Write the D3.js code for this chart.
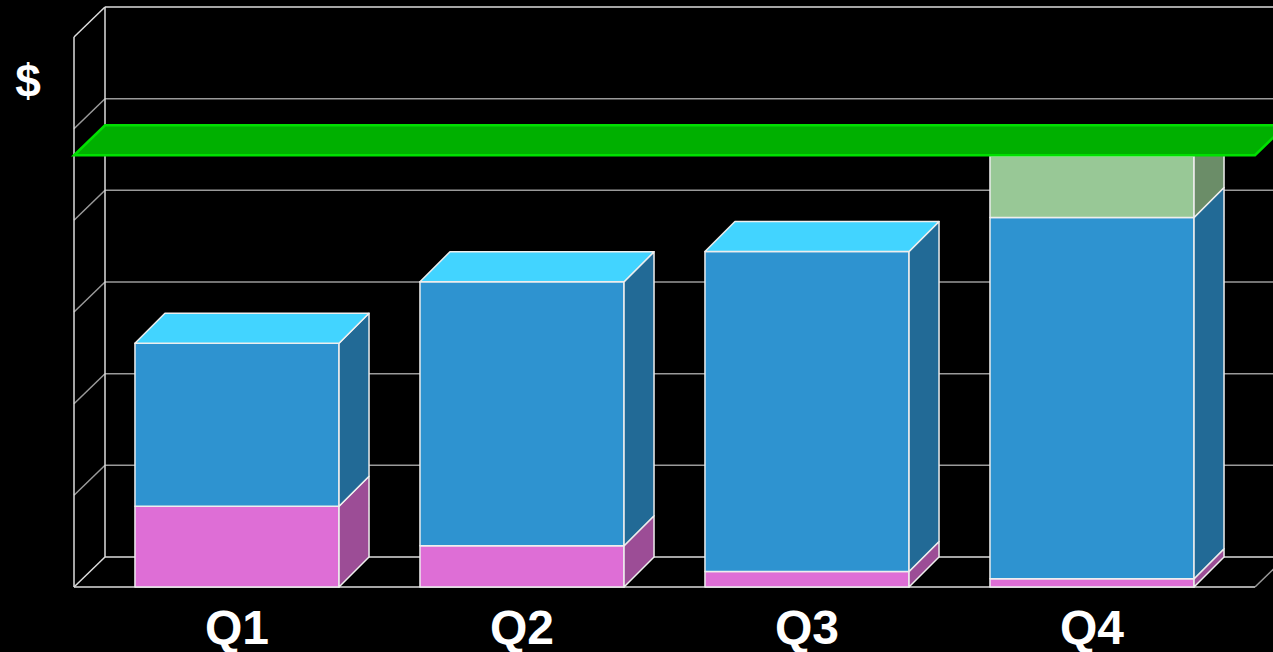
<!DOCTYPE html>
<html>
<head>
<meta charset="utf-8">
<script src="https://cdn.jsdelivr.net/npm/d3@7"></script>
<style>
html,body{margin:0;padding:0;background:#000;overflow:hidden;}
svg{display:block;}
</style>
</head>
<body>
<svg id="chart" width="1273" height="652"></svg>
<script>
// ---- data ----
const categories = ["Q1", "Q2", "Q3", "Q4"];
const seriesPink = [88, 45, 17, 9];
const seriesBlue = [178, 288, 349, 394];
const seriesLightGreen = [0, 0, 0, 67.5];
const targetValue = 471;
const yTicks = [0, 100, 200, 300, 400, 500, 600];
const axisLabel = "$";

// ---- layout ----
const W = 1273, H = 652;
const depthX = 31, depthY = 30;
const frontLeft = 74, frontRight = 1255;
const yBase = 587, yTopFront = 37;

const svg = d3.select("#chart");
svg.append("rect").attr("width", W).attr("height", H).attr("fill", "#000");

const y = d3.scaleLinear().domain([0, 600]).range([yBase, yTopFront]);
const x = d3.scaleBand().domain(categories).range([94.5, 1234.5]).paddingInner(0.284).paddingOuter(0.142);

const gridColor = "#9a9a9a", frameColor = "#dcdcdc";

const grid = svg.append("g");
yTicks.forEach((t, i) => {
  const yf = y(t), yb = yf - depthY;
  const isFrame = (i === 0 || i === yTicks.length - 1);
  grid.append("line")
    .attr("x1", frontLeft + depthX).attr("x2", frontRight + depthX)
    .attr("y1", yb).attr("y2", yb)
    .attr("stroke", isFrame ? frameColor : gridColor)
    .attr("stroke-width", 1.5);
  grid.append("line")
    .attr("x1", frontLeft).attr("y1", yf)
    .attr("x2", frontLeft + depthX).attr("y2", yb)
    .attr("stroke", isFrame ? frameColor : gridColor)
    .attr("stroke-width", 1.5);
});
grid.append("line")
  .attr("x1", frontLeft + depthX).attr("x2", frontLeft + depthX)
  .attr("y1", y(600) - depthY).attr("y2", y(0) - depthY)
  .attr("stroke", frameColor).attr("stroke-width", 1.5);
grid.append("line")
  .attr("x1", frontLeft).attr("x2", frontLeft)
  .attr("y1", y(600)).attr("y2", y(0))
  .attr("stroke", frameColor).attr("stroke-width", 1.5);
grid.append("line")
  .attr("x1", frontLeft).attr("x2", frontRight)
  .attr("y1", y(0)).attr("y2", y(0))
  .attr("stroke", frameColor).attr("stroke-width", 1.5);
grid.append("line")
  .attr("x1", frontRight).attr("y1", y(0))
  .attr("x2", frontRight + depthX).attr("y2", y(0) - depthY)
  .attr("stroke", gridColor).attr("stroke-width", 1.5);

// ---- bars ----
const series = [
  { values: seriesPink, front: "#de6ed6", top: "#f08ae8", side: "#9c4d96" },
  { values: seriesBlue, front: "#2e93d0", top: "#42d4ff", side: "#226a96" },
  { values: seriesLightGreen, front: "#98c896", top: "#b5e0b2", side: "#6b8d68" }
];

const bars = svg.append("g");
const bw = x.bandwidth();
const bdx = 30, bdy = 30;
const edge = "#eeeeee";
const pts = arr => arr.map(p => p.join(",")).join(" ");

categories.forEach((c, ci) => {
  const x0 = x(c), x1 = x0 + bw;
  let cum = 0;
  const segs = [];
  series.forEach(s => {
    const v = s.values[ci];
    if (v > 0) { segs.push({ s, lo: cum, hi: cum + v }); cum += v; }
  });
  segs.forEach((seg, si) => {
    const yb = y(seg.lo), yt = y(seg.hi);
    bars.append("polygon")
      .attr("points", pts([[x0, yb], [x1, yb], [x1, yt], [x0, yt]]))
      .attr("fill", seg.s.front).attr("stroke", edge).attr("stroke-width", 1.5).attr("stroke-linejoin", "round");
    bars.append("polygon")
      .attr("points", pts([[x1, yb], [x1 + bdx, yb - bdy], [x1 + bdx, yt - bdy], [x1, yt]]))
      .attr("fill", seg.s.side).attr("stroke", edge).attr("stroke-width", 1.5).attr("stroke-linejoin", "round");
    if (si === segs.length - 1) {
      bars.append("polygon")
        .attr("points", pts([[x0, yt], [x1, yt], [x1 + bdx, yt - bdy], [x0 + bdx, yt - bdy]]))
        .attr("fill", seg.s.top).attr("stroke", edge).attr("stroke-width", 1.5).attr("stroke-linejoin", "round");
    }
  });
});

// ---- target plane ----
const yg = y(targetValue);
svg.append("polygon")
  .attr("points", pts([[frontLeft, yg], [frontRight, yg], [frontRight + depthX, yg - depthY], [frontLeft + depthX, yg - depthY]]))
  .attr("fill", "#00b000").attr("stroke", "#00e000").attr("stroke-width", 2.5);

// ---- labels ----
svg.append("g").selectAll("text").data(categories).join("text")
  .attr("x", d => x(d) + bw / 2)
  .attr("y", 644)
  .attr("text-anchor", "middle")
  .attr("font-family", "Liberation Sans, Arial, sans-serif")
  .attr("font-weight", "bold")
  .attr("font-size", 48)
  .attr("fill", "#fff")
  .text(d => d);

svg.append("text")
  .attr("x", 28).attr("y", 97)
  .attr("text-anchor", "middle")
  .attr("font-family", "Liberation Sans, Arial, sans-serif")
  .attr("font-weight", "bold")
  .attr("font-size", 46)
  .attr("fill", "#fff")
  .text(axisLabel);
</script>
</body>
</html>
